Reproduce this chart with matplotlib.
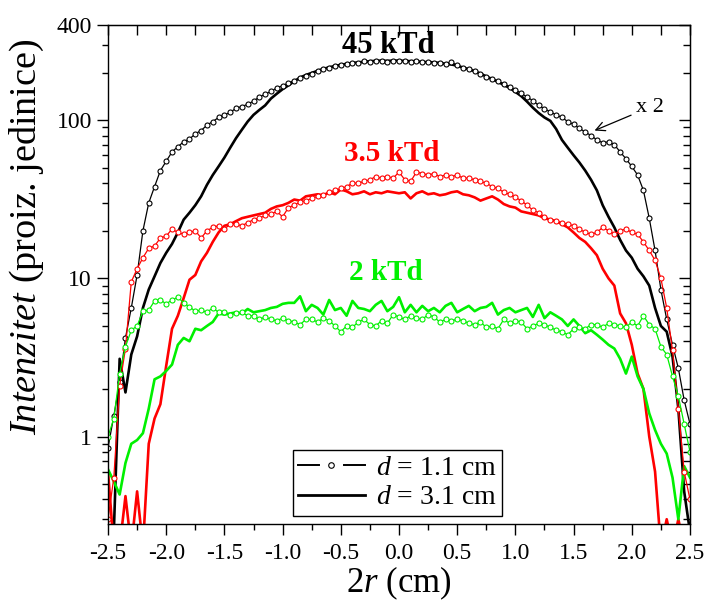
import numpy as np
import matplotlib
matplotlib.use("Agg")
import matplotlib.pyplot as plt
from matplotlib.ticker import FixedLocator, NullFormatter
from matplotlib.lines import Line2D
from matplotlib.legend_handler import HandlerBase

plt.rcParams['font.family'] = ['Liberation Serif', 'DejaVu Serif']
plt.rcParams['mathtext.fontset'] = 'custom'
plt.rcParams['mathtext.rm'] = 'Liberation Serif'
plt.rcParams['mathtext.it'] = 'Liberation Serif:italic'
plt.rcParams['mathtext.bf'] = 'Liberation Serif:bold'

# radial position 2r (cm), common grid for all profiles
r2 = np.round(np.arange(-2.5, 2.5001, 0.05), 2)

# d = 1.1 cm (open circles), 45 kTd (shown x 2)
black_d11 = [0.85, 1.35, 2.2, 4.2, 6.5, 10.5, 20, 30, 38, 48, 55, 63, 68, 73, 76, 82, 86,
             93, 98, 104, 108, 112, 119, 122, 126, 132, 140, 146, 152, 160, 165, 172, 178,
             184, 190, 197, 205, 210, 214, 219, 223, 226, 229, 231, 235, 233, 236, 238, 234,
             238, 237, 236, 234, 235, 232, 233, 231, 230, 228, 233, 222, 215, 210, 204, 196,
             188, 182, 176, 170, 163, 156, 148, 140, 133, 124, 118, 113, 108, 104, 98, 94,
             89, 84, 80, 75, 72, 73, 70, 63, 57, 51, 45, 36, 24, 15, 8.5, 5.5, 3.8, 2.7,
             1.7, 1.2]
# d = 3.1 cm (solid), 45 kTd
black_d31 = [0.2, 0.25, 3.1, 1.9, 3.3, 4.3, 6.5, 8.5, 10.3, 12.5, 14.5, 16.5, 19.5, 23.5,
             26, 29, 33, 39, 45, 51, 58, 67, 77, 87, 98, 108, 116, 124, 137, 147, 157, 166,
             176, 186, 193, 199, 205, 211, 216, 220, 224, 227, 230, 232, 234, 236, 237, 238,
             237, 238, 238, 237, 236, 236, 233, 233, 232, 230, 227, 225, 221, 215, 210, 204,
             197, 189, 182, 175, 167, 160, 151, 142, 131, 120, 111, 104, 99, 88, 75, 67, 60,
             54, 48, 42, 36, 29, 24.5, 21, 17.5, 15, 13.5, 11.5, 10.3, 9, 6.5, 5.0, 4.6,
             3.2, 1.5, 0.45, 0.25]
# 3.5 kTd
red_d11 = [0.3, 0.55, 2.1, 3.6, 9.5, 11.5, 13.5, 15.5, 16, 18, 18.5, 20.5, 19.5, 19, 19.5,
           20, 18, 20, 21, 21.5, 20.5, 22, 22, 21.5, 22.5, 23.5, 24, 25, 25.5, 26.5, 24.5,
           28, 29, 30.5, 31, 32, 33, 33.5, 35, 36, 37, 38, 40, 40, 41, 42, 44, 43, 44, 43,
           47, 42, 41, 47, 46, 45, 46, 44, 45, 44, 45, 43, 43, 42, 41, 40, 38, 37, 35, 34,
           32.5, 31, 29, 27, 26, 24.5, 23.5, 23, 22.5, 22, 21.5, 20.5, 19.5, 19, 19.5, 21,
           20, 19, 20, 20.5, 19.5, 19, 17, 15, 13, 10, 6.5, 3.5, 1.5, 0.6, 0.4]
red_d31 = [0.6, 0.2, 0.2, 0.42, 0.2, 0.45, 0.2, 0.9, 1.3, 1.6, 2.8, 4.8, 5.8, 7.5, 9.8,
           10.5, 12.8, 14.5, 17, 19.5, 21.5, 22, 23, 24, 24.5, 25, 25.5, 26, 27.5, 28.5, 29,
           30, 31.5, 31, 33, 33.5, 34, 33.5, 35, 34, 36.5, 35.5, 34, 34.5, 35.5, 34, 35,
           34.5, 35.5, 35, 34.5, 35, 32, 34.5, 35.5, 34, 34.5, 33.5, 34, 35, 35.5, 34, 33.5,
           32.5, 31, 32, 33, 31.5, 29.5, 28.5, 28, 26.5, 26, 25.5, 25, 24, 23.5, 23, 22, 21,
           19.5, 18, 17, 15.5, 14, 11.5, 10, 9, 6, 5.2, 3.8, 2.5, 2.0, 1.0, 0.6, 0.2, 0.3,
           0.2, 0.3, 0.2, 0.2]
# 2 kTd
green_d11 = [1.0, 1.3, 2.5, 3.7, 4.7, 5.0, 6.2, 6.3, 7.2, 7.3, 6.9, 7.3, 7.6, 7.0, 6.6, 6.2,
             6.3, 6.1, 6.5, 6.1, 6.1, 5.9, 6.0, 6.1, 5.8, 5.8, 5.5, 5.7, 5.5, 5.4, 5.6, 5.4,
             5.3, 5.1, 5.5, 5.5, 5.3, 5.6, 5.4, 5.0, 4.6, 5.0, 4.9, 5.3, 5.5, 5.1, 5.0, 5.4,
             5.2, 5.9, 5.7, 5.5, 5.8, 5.6, 5.5, 5.9, 5.7, 5.3, 5.5, 5.4, 5.5, 5.4, 5.2, 5.1,
             5.3, 4.9, 5.0, 4.8, 5.5, 5.2, 5.4, 5.3, 4.8, 5.0, 5.2, 5.1, 4.9, 4.7, 4.6, 4.4,
             4.8, 4.9, 4.8, 5.1, 5.1, 4.9, 5.2, 5.1, 5.0, 4.9, 5.3, 5.0, 5.8, 5.1, 4.8, 3.7,
             3.3, 2.4, 1.8, 1.2, 0.8]
green_d31 = [0.62, 0.52, 0.43, 0.68, 0.9, 0.95, 1.05, 1.5, 2.3, 2.4, 2.6, 2.85, 3.8, 4.2,
             4.0, 4.8, 4.7, 5.0, 5.3, 6.0, 5.9, 6.0, 6.1, 6.0, 6.4, 6.1, 6.2, 6.3, 6.5, 6.6,
             6.9, 7.0, 7.0, 7.7, 6.2, 6.8, 6.5, 5.9, 7.3, 6.3, 6.5, 5.8, 7.2, 6.5, 6.4, 6.2,
             6.8, 7.2, 6.2, 6.6, 7.6, 6.1, 6.8, 6.1, 6.7, 6.2, 6.5, 6.1, 6.7, 7.0, 6.1, 6.4,
             6.7, 6.2, 6.5, 6.6, 7.0, 5.9, 6.3, 6.5, 6.1, 6.3, 6.5, 5.7, 6.8, 5.6, 6.1, 5.8,
             5.5, 5.0, 5.5, 5.0, 4.5, 4.7, 4.4, 4.1, 3.8, 3.6, 3.1, 2.5, 3.2, 2.4, 2.0, 1.4,
             1.1, 0.9, 0.78, 0.55, 0.3, 0.65, 0.55]

GREEN = '#00f000'
RED = '#ff0000'


class GapLineHandler(HandlerBase):
    # Origin-style symbol key: line, gap, open circle, gap, line
    def create_artists(self, legend, orig_handle, xdescent, ydescent, width, height,
                       fontsize, trans):
        x0 = -xdescent
        x1 = x0 + width
        xm = 0.5 * (x0 + x1)
        y = 0.5 * height - ydescent
        g = 0.19 * width
        left = Line2D([x0, xm - g], [y, y], color='black', lw=1.4)
        right = Line2D([xm + g, x1], [y, y], color='black', lw=1.4)
        dot = Line2D([xm], [y], lw=0, marker='o', markersize=4, color='black',
                     markerfacecolor='white', markeredgewidth=0.8)
        for a in (left, right, dot):
            a.set_transform(trans)
        return [left, right, dot]


fig = plt.figure(figsize=(7.05, 6.04), dpi=100)
ax = fig.add_axes([0.1532, 0.1325, 0.8255, 0.8262])

circ = dict(marker='o', markersize=3.6, markerfacecolor='white', markeredgewidth=0.8, lw=0.9)
solid = dict(lw=1.9)

ax.plot(r2, black_d31, color='black', **solid)
ax.plot(r2, red_d31, color=RED, **solid)
ax.plot(r2, green_d31, color=GREEN, **solid)
h1, = ax.plot(r2, black_d11, color='black', markeredgecolor='black', **circ)
ax.plot(r2, red_d11, color=RED, markeredgecolor=RED, **circ)
ax.plot(r2, green_d11, color=GREEN, markeredgecolor=GREEN, **circ)

ax.set_yscale('log')
ax.set_xlim(-2.5, 2.5)
ax.set_ylim(0.28, 400)

ax.set_xticks(np.arange(-2.5, 2.51, 0.5))
ax.set_xticklabels([f'{v:.1f}' for v in np.arange(-2.5, 2.51, 0.5)])
ax.xaxis.set_minor_locator(FixedLocator(np.arange(-2.25, 2.3, 0.5)))
ax.set_yticks([1, 10, 100, 400])
ax.set_yticklabels(['1', '10', '100', '400'])
minor_y = [m * 10.0 ** e for e in (-1, 0, 1, 2) for m in range(2, 10)]
ax.yaxis.set_minor_locator(FixedLocator([v for v in minor_y if v != 400]))
ax.yaxis.set_minor_formatter(NullFormatter())

ax.tick_params(which='both', direction='out', labelsize=17, width=1.0)
ax.tick_params(which='major', length=8)
ax.tick_params(which='minor', length=4.5)
ax.tick_params(axis='x', which='major', pad=6)
for sp in ax.spines.values():
    sp.set_linewidth(1.0)

# mirrored ticks on the top and right, pointing inward
axt = ax.secondary_xaxis('top')
axt.set_xticks(np.arange(-2.5, 2.51, 0.25))
axt.tick_params(direction='in', length=7, width=1.0, labeltop=False)
axr = ax.secondary_yaxis('right')
axr.set_yticks([1, 10, 100, 400])
axr.yaxis.set_minor_locator(FixedLocator(minor_y))
axr.yaxis.set_minor_formatter(NullFormatter())
axr.tick_params(which='major', direction='in', length=8, width=1.0, labelright=False)
axr.tick_params(which='minor', direction='in', length=5, width=1.0, labelright=False)

ax.set_xlabel(r'$\mathit{2r}$ (cm)', fontsize=25, labelpad=0)
ax.set_ylabel(r'$\mathit{Intenzitet}$ (proiz. jedinice)', fontsize=27.5)
ax.yaxis.set_label_coords(-0.107, 0.575)

ax.text(-0.09, 295, '45 kTd', color='black', fontsize=22, fontweight='bold',
        ha='center', va='center')
ax.text(-0.065, 62, '3.5 kTd', color=RED, fontsize=21, fontweight='bold',
        ha='center', va='center')
ax.text(-0.11, 10.9, '2 kTd', color=GREEN, fontsize=21, fontweight='bold',
        ha='center', va='center')
ax.annotate('x 2', xy=(1.68, 86), xytext=(2.04, 121), fontsize=16,
            ha='left', va='center',
            arrowprops=dict(arrowstyle='->', color='black', lw=0.9, shrinkA=2, shrinkB=0))

h2 = Line2D([], [], color='black', lw=2.0)
leg = ax.legend([h1, h2], [r'$d$ = 1.1 cm', r'$d$ = 3.1 cm'], loc='lower center',
                handler_map={h1: GapLineHandler()},
                bbox_to_anchor=(0.497, 0.005), fontsize=20, frameon=True, fancybox=False,
                edgecolor='black', framealpha=1, numpoints=1, handlelength=2.4,
                handletextpad=0.4, borderpad=0.2, labelspacing=0.15, borderaxespad=0.2)
leg.get_frame().set_linewidth(1.0)

fig.savefig('out.png', dpi=100)
